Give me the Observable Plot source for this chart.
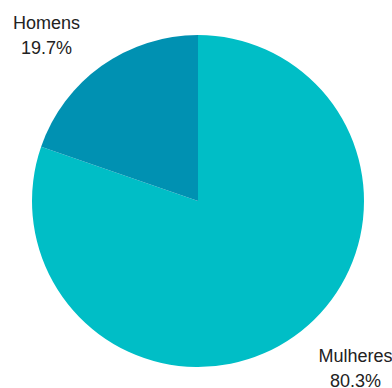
<!DOCTYPE html>
<html><head><meta charset="utf-8">
<script src="https://cdn.jsdelivr.net/npm/d3@7"></script>
<script src="https://cdn.jsdelivr.net/npm/@observablehq/plot@0.6"></script>
<style>body{margin:0;background:#fff;font-family:"Liberation Sans",Arial,sans-serif}</style>
</head><body><div id="chart"></div>
<script>
// data
const categories = ["Mulheres", "Homens"];
const shares = [80.3, 19.7];
const colors = ["#00bec6", "#0091b2"];

// layout (not data)
const W = 392, H = 388, R = 166, CX = 198, CY = 201;
const labelAngles = [132.1, 321.5];   // degrees clockwise from top
const labelDists = [1.275, 1.470];    // in radii

const rows = categories.map((c, i) => ({category: c, share: shares[i]}));
const arcs = d3.pie().sort(null).value(d => d.share)(rows);
const color = d3.scaleOrdinal(categories, colors);

const labels = rows.map((d, i) => {
  const a = labelAngles[i] * Math.PI / 180;
  return {
    x: labelDists[i] * Math.sin(a),
    y: labelDists[i] * Math.cos(a),
    text: `${d.category}\n${d.share.toFixed(1)}%`
  };
});

function pieMark(index, scales) {
  const x = scales.x, y = scales.y;
  const cx = x(0), cy = y(0), r = x(1) - x(0);
  const g = d3.create("svg:g").attr("transform", `translate(${cx},${cy})`);
  const arc = d3.arc().innerRadius(0).outerRadius(r);
  g.selectAll("path").data(arcs).join("path")
    .attr("d", arc)
    .attr("fill", d => color(d.data.category));
  return g.node();
}

const chart = Plot.plot({
  width: W, height: H,
  margin: 0,
  style: {fontFamily: '"Liberation Sans", Arial, sans-serif', background: "#fff", overflow: "visible"},
  x: {domain: [-CX / R, (W - CX) / R], axis: null},
  y: {domain: [-(H - CY) / R, CY / R], axis: null},
  marks: [
    pieMark,
    Plot.text(labels, {x: "x", y: "y", text: "text", lineAnchor: "top", lineHeight: 1.42,
      fontSize: 18, fill: "#222", textAnchor: "middle"})
  ]
});
document.getElementById("chart").appendChild(chart);
</script>
</body></html>
